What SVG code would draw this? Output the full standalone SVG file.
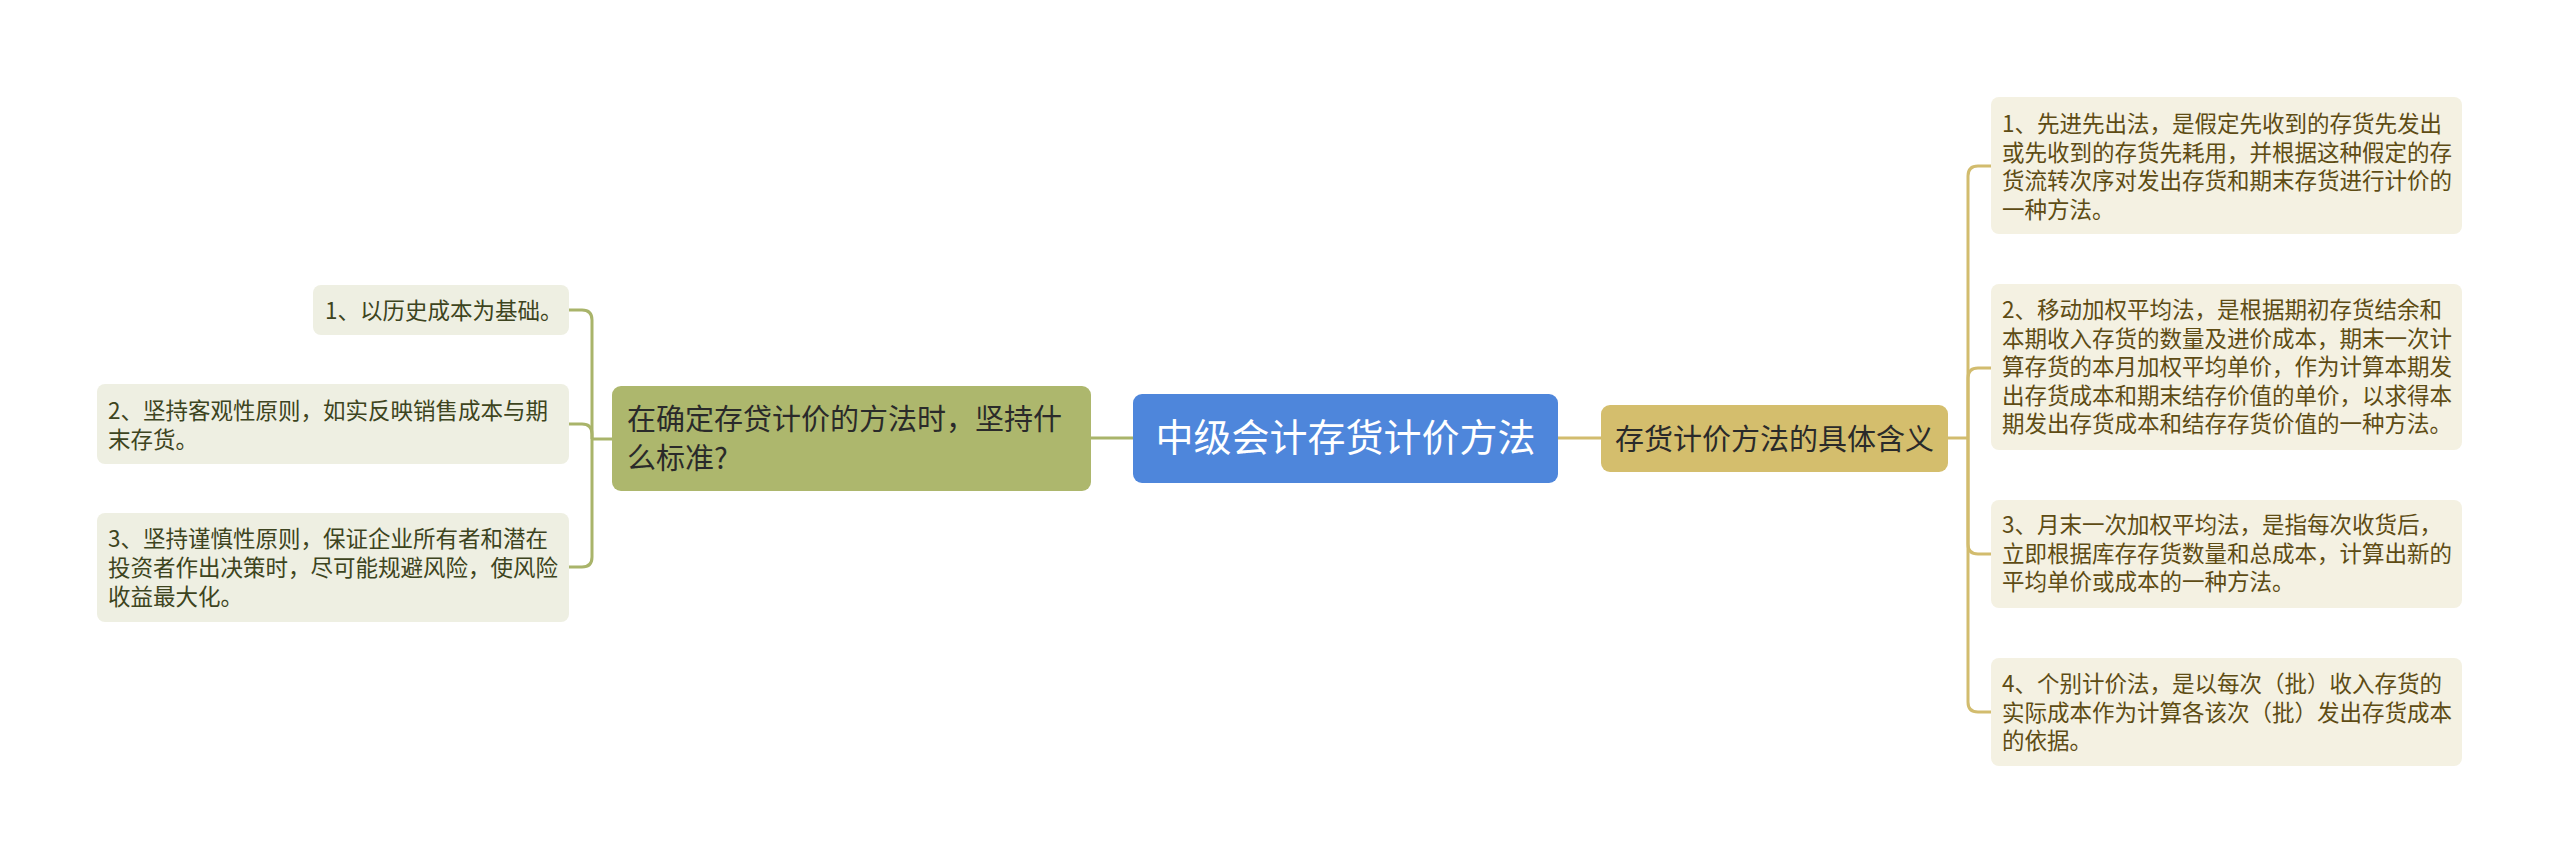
<svg xmlns="http://www.w3.org/2000/svg" width="2560" height="863" viewBox="0 0 2560 863">
<style>
text{font-family:"Noto Sans CJK SC","Noto Sans",sans-serif}
.root{fill:#4E86DB}
.rootT{fill:#FFFFFF;font-size:38px}
.lm{fill:#ADB76D}
.rm{fill:#D4BE6D}
.mT{fill:#2A2A2A;font-size:29px}
.ll{fill:#EEEFE2}
.llT{fill:#3D4420;font-size:22.5px}
.rl{fill:#F4F1E2}
.rlT{fill:#5E4C14;font-size:22.5px}
.cl{fill:none;stroke:#A9B46A;stroke-width:3}
.cr{fill:none;stroke:#D2BC6E;stroke-width:3}
</style>
<rect width="2560" height="863" fill="#FFFFFF"/>
<g id="connectors">
<path class="cl" d="M1133,438 H1091"/>
<path class="cr" d="M1558,438 H1601"/>
<path class="cl" d="M612,439 H592"/>
<path class="cl" d="M592,439 V320 Q592,310 582,310 H569"/>
<path class="cl" d="M592,439 V434 Q592,424 582,424 H569"/>
<path class="cl" d="M592,439 V557 Q592,567 582,567 H569"/>
<path class="cr" d="M1948,438 H1968"/>
<path class="cr" d="M1968,438 V176 Q1968,166 1978,166 H1991"/>
<path class="cr" d="M1968,438 V378 Q1968,368 1978,368 H1991"/>
<path class="cr" d="M1968,438 V544 Q1968,554 1978,554 H1991"/>
<path class="cr" d="M1968,438 V702 Q1968,712 1978,712 H1991"/>
</g>
<g id="root">
<rect class="root" x="1133" y="394" width="425" height="89" rx="9"/>
<text class="rootT" x="1345.5" y="451" text-anchor="middle">中级会计存货计价方法</text>
</g>
<g id="left-main">
<rect class="lm" x="612" y="386" width="479" height="105" rx="9"/>
<text class="mT" x="627" y="430">在确定存贷计价的方法时，坚持什</text>
<text class="mT" x="627" y="469">么标准?</text>
</g>
<g id="right-main">
<rect class="rm" x="1601" y="405" width="347" height="67" rx="9"/>
<text class="mT" x="1615" y="450">存货计价方法的具体含义</text>
</g>
<g id="left-leaf-1">
<rect class="ll" x="313" y="285" width="256" height="50" rx="8"/>
<text class="llT" x="325" y="319">1、以历史成本为基础。</text>
</g>
<g id="left-leaf-2">
<rect class="ll" x="97" y="384" width="472" height="80" rx="8"/>
<text class="llT" x="108" y="419">2、坚持客观性原则，如实反映销售成本与期</text>
<text class="llT" x="108" y="447.5">末存货。</text>
</g>
<g id="left-leaf-3">
<rect class="ll" x="97" y="513" width="472" height="109" rx="8"/>
<text class="llT" x="108" y="547">3、坚持谨慎性原则，保证企业所有者和潜在</text>
<text class="llT" x="108" y="576">投资者作出决策时，尽可能规避风险，使风险</text>
<text class="llT" x="108" y="605">收益最大化。</text>
</g>
<g id="right-leaf-1">
<rect class="rl" x="1991" y="97" width="471" height="137" rx="8"/>
<text class="rlT" x="2002" y="132">1、先进先出法，是假定先收到的存货先发出</text>
<text class="rlT" x="2002" y="160.5">或先收到的存货先耗用，并根据这种假定的存</text>
<text class="rlT" x="2002" y="189">货流转次序对发出存货和期末存货进行计价的</text>
<text class="rlT" x="2002" y="217.5">一种方法。</text>
</g>
<g id="right-leaf-2">
<rect class="rl" x="1991" y="284" width="471" height="166" rx="8"/>
<text class="rlT" x="2002" y="318">2、移动加权平均法，是根据期初存货结余和</text>
<text class="rlT" x="2002" y="346.5">本期收入存货的数量及进价成本，期末一次计</text>
<text class="rlT" x="2002" y="375">算存货的本月加权平均单价，作为计算本期发</text>
<text class="rlT" x="2002" y="403.5">出存货成本和期末结存价值的单价，以求得本</text>
<text class="rlT" x="2002" y="432">期发出存货成本和结存存货价值的一种方法。</text>
</g>
<g id="right-leaf-3">
<rect class="rl" x="1991" y="500" width="471" height="108" rx="8"/>
<text class="rlT" x="2002" y="533">3、月末一次加权平均法，是指每次收货后，</text>
<text class="rlT" x="2002" y="561.5">立即根据库存存货数量和总成本，计算出新的</text>
<text class="rlT" x="2002" y="590">平均单价或成本的一种方法。</text>
</g>
<g id="right-leaf-4">
<rect class="rl" x="1991" y="658" width="471" height="108" rx="8"/>
<text class="rlT" x="2002" y="692">4、个别计价法，是以每次（批）收入存货的</text>
<text class="rlT" x="2002" y="720.5">实际成本作为计算各该次（批）发出存货成本</text>
<text class="rlT" x="2002" y="749">的依据。</text>
</g>
</svg>
